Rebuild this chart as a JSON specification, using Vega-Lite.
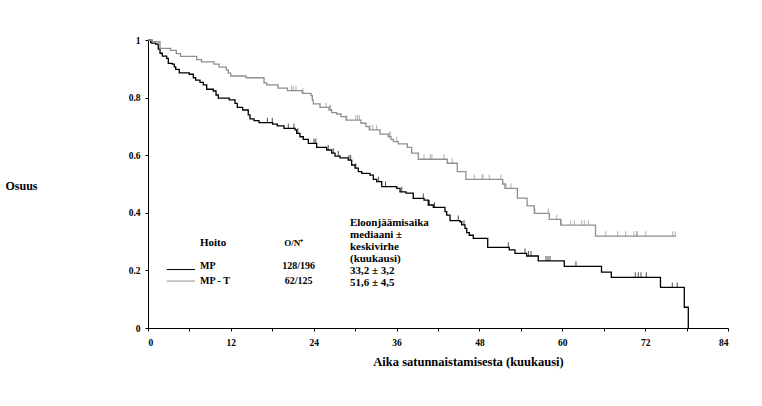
{
  "$schema": "https://vega.github.io/schema/vega-lite/v6.json",
  "autosize": {"type": "none"},
  "padding": {"left": 148, "top": 40, "right": 34, "bottom": 78},
  "width": 580,
  "height": 288,
  "background": "white",
  "config": {
    "view": {"stroke": null},
    "axis": {"grid": false, "domainColor": "#000", "tickColor": "#000", "labelColor": "#000", "titleColor": "#000",
      "labelFont": "Liberation Serif", "labelFontWeight": "bold", "labelFontSize": 9.5,
      "titleFont": "Liberation Serif", "titleFontWeight": "bold", "domainWidth": 1, "tickWidth": 1, "tickSize": 3}
  },
  "datasets": {"km": [
    {"g":"MP","t":0,"s":1,"c":0},
    {"g":"MP","t":0.39,"s":0.992,"c":0},
    {"g":"MP","t":0.54,"s":0.989,"c":0},
    {"g":"MP","t":1.11,"s":0.986,"c":0},
    {"g":"MP","t":1.49,"s":0.968,"c":0},
    {"g":"MP","t":1.74,"s":0.954,"c":0},
    {"g":"MP","t":2.07,"s":0.944,"c":0},
    {"g":"MP","t":2.71,"s":0.936,"c":0},
    {"g":"MP","t":2.94,"s":0.919,"c":0},
    {"g":"MP","t":3.52,"s":0.916,"c":0},
    {"g":"MP","t":3.81,"s":0.907,"c":0},
    {"g":"MP","t":4.01,"s":0.898,"c":0},
    {"g":"MP","t":4.53,"s":0.886,"c":0},
    {"g":"MP","t":5.98,"s":0.881,"c":0},
    {"g":"MP","t":6.56,"s":0.869,"c":0},
    {"g":"MP","t":6.91,"s":0.861,"c":0},
    {"g":"MP","t":7.53,"s":0.853,"c":0},
    {"g":"MP","t":8.01,"s":0.844,"c":0},
    {"g":"MP","t":8.5,"s":0.829,"c":0},
    {"g":"MP","t":9.46,"s":0.823,"c":0},
    {"g":"MP","t":9.85,"s":0.809,"c":0},
    {"g":"MP","t":10.18,"s":0.798,"c":0},
    {"g":"MP","t":11.77,"s":0.792,"c":0},
    {"g":"MP","t":12.6,"s":0.78,"c":0},
    {"g":"MP","t":12.93,"s":0.766,"c":0},
    {"g":"MP","t":13.71,"s":0.757,"c":0},
    {"g":"MP","t":14.52,"s":0.74,"c":0},
    {"g":"MP","t":14.77,"s":0.726,"c":0},
    {"g":"MP","t":15.35,"s":0.72,"c":0},
    {"g":"MP","t":16.08,"s":0.713,"c":0},
    {"g":"MP","t":17.28,"s":0.713,"c":1},
    {"g":"MP","t":18.0,"s":0.713,"c":1},
    {"g":"MP","t":18.06,"s":0.708,"c":0},
    {"g":"MP","t":18.73,"s":0.702,"c":0},
    {"g":"MP","t":19.7,"s":0.693,"c":0},
    {"g":"MP","t":20.32,"s":0.693,"c":1},
    {"g":"MP","t":21.14,"s":0.693,"c":1},
    {"g":"MP","t":21.29,"s":0.688,"c":0},
    {"g":"MP","t":21.53,"s":0.676,"c":0},
    {"g":"MP","t":21.7,"s":0.676,"c":1},
    {"g":"MP","t":22.01,"s":0.664,"c":0},
    {"g":"MP","t":22.49,"s":0.655,"c":0},
    {"g":"MP","t":23.22,"s":0.641,"c":0},
    {"g":"MP","t":24.04,"s":0.641,"c":1},
    {"g":"MP","t":24.3,"s":0.641,"c":1},
    {"g":"MP","t":24.43,"s":0.627,"c":0},
    {"g":"MP","t":25.88,"s":0.618,"c":0},
    {"g":"MP","t":26.1,"s":0.618,"c":1},
    {"g":"MP","t":26.6,"s":0.607,"c":0},
    {"g":"MP","t":26.84,"s":0.607,"c":1},
    {"g":"MP","t":27.08,"s":0.597,"c":0},
    {"g":"MP","t":27.56,"s":0.597,"c":1},
    {"g":"MP","t":27.81,"s":0.591,"c":0},
    {"g":"MP","t":29.0,"s":0.583,"c":0},
    {"g":"MP","t":29.1,"s":0.583,"c":1},
    {"g":"MP","t":29.35,"s":0.583,"c":1},
    {"g":"MP","t":29.5,"s":0.566,"c":0},
    {"g":"MP","t":29.98,"s":0.555,"c":0},
    {"g":"MP","t":30.1,"s":0.555,"c":1},
    {"g":"MP","t":30.46,"s":0.543,"c":0},
    {"g":"MP","t":30.95,"s":0.537,"c":0},
    {"g":"MP","t":32.15,"s":0.531,"c":0},
    {"g":"MP","t":32.63,"s":0.516,"c":0},
    {"g":"MP","t":33.12,"s":0.508,"c":0},
    {"g":"MP","t":33.4,"s":0.508,"c":1},
    {"g":"MP","t":33.85,"s":0.491,"c":0},
    {"g":"MP","t":34.4,"s":0.491,"c":1},
    {"g":"MP","t":36.02,"s":0.485,"c":0},
    {"g":"MP","t":36.5,"s":0.473,"c":0},
    {"g":"MP","t":36.75,"s":0.473,"c":1},
    {"g":"MP","t":37.36,"s":0.468,"c":0},
    {"g":"MP","t":38.42,"s":0.45,"c":0},
    {"g":"MP","t":39.87,"s":0.45,"c":1},
    {"g":"MP","t":39.97,"s":0.444,"c":0},
    {"g":"MP","t":40.59,"s":0.427,"c":0},
    {"g":"MP","t":40.75,"s":0.427,"c":1},
    {"g":"MP","t":41.32,"s":0.419,"c":0},
    {"g":"MP","t":41.5,"s":0.419,"c":1},
    {"g":"MP","t":43.01,"s":0.404,"c":0},
    {"g":"MP","t":43.26,"s":0.392,"c":0},
    {"g":"MP","t":43.74,"s":0.373,"c":0},
    {"g":"MP","t":44.94,"s":0.373,"c":1},
    {"g":"MP","t":45.18,"s":0.369,"c":0},
    {"g":"MP","t":45.43,"s":0.358,"c":0},
    {"g":"MP","t":45.76,"s":0.358,"c":1},
    {"g":"MP","t":45.91,"s":0.346,"c":0},
    {"g":"MP","t":46.16,"s":0.331,"c":0},
    {"g":"MP","t":46.53,"s":0.322,"c":0},
    {"g":"MP","t":47.11,"s":0.311,"c":0},
    {"g":"MP","t":49.2,"s":0.28,"c":0},
    {"g":"MP","t":52.18,"s":0.28,"c":1},
    {"g":"MP","t":52.32,"s":0.271,"c":0},
    {"g":"MP","t":53.15,"s":0.259,"c":0},
    {"g":"MP","t":54.6,"s":0.259,"c":1},
    {"g":"MP","t":54.84,"s":0.25,"c":0},
    {"g":"MP","t":55.1,"s":0.25,"c":1},
    {"g":"MP","t":55.47,"s":0.25,"c":1},
    {"g":"MP","t":56.52,"s":0.233,"c":0},
    {"g":"MP","t":57.64,"s":0.233,"c":1},
    {"g":"MP","t":57.93,"s":0.233,"c":1},
    {"g":"MP","t":58.22,"s":0.233,"c":1},
    {"g":"MP","t":60.29,"s":0.214,"c":0},
    {"g":"MP","t":61.98,"s":0.214,"c":1},
    {"g":"MP","t":65.68,"s":0.194,"c":0},
    {"g":"MP","t":67.1,"s":0.176,"c":0},
    {"g":"MP","t":70.57,"s":0.176,"c":1},
    {"g":"MP","t":71.01,"s":0.176,"c":1},
    {"g":"MP","t":71.4,"s":0.176,"c":1},
    {"g":"MP","t":72.17,"s":0.176,"c":1},
    {"g":"MP","t":74.22,"s":0.141,"c":0},
    {"g":"MP","t":75.93,"s":0.141,"c":1},
    {"g":"MP","t":76.65,"s":0.141,"c":1},
    {"g":"MP","t":77.67,"s":0.072,"c":0},
    {"g":"MP","t":78.25,"s":0.0,"c":0},
    {"g":"MP-T","t":0,"s":1,"c":0},
    {"g":"MP-T","t":0.65,"s":0.994,"c":0},
    {"g":"MP-T","t":1.74,"s":0.971,"c":0},
    {"g":"MP-T","t":3.26,"s":0.964,"c":0},
    {"g":"MP-T","t":4.1,"s":0.953,"c":0},
    {"g":"MP-T","t":4.71,"s":0.943,"c":0},
    {"g":"MP-T","t":7.05,"s":0.932,"c":0},
    {"g":"MP-T","t":7.75,"s":0.924,"c":0},
    {"g":"MP-T","t":9.56,"s":0.916,"c":0},
    {"g":"MP-T","t":10.28,"s":0.906,"c":0},
    {"g":"MP-T","t":11.34,"s":0.896,"c":0},
    {"g":"MP-T","t":11.63,"s":0.885,"c":0},
    {"g":"MP-T","t":11.98,"s":0.875,"c":0},
    {"g":"MP-T","t":14.19,"s":0.869,"c":0},
    {"g":"MP-T","t":16.8,"s":0.851,"c":0},
    {"g":"MP-T","t":17.19,"s":0.844,"c":0},
    {"g":"MP-T","t":18.83,"s":0.833,"c":0},
    {"g":"MP-T","t":20.2,"s":0.824,"c":0},
    {"g":"MP-T","t":20.81,"s":0.824,"c":1},
    {"g":"MP-T","t":21.04,"s":0.824,"c":1},
    {"g":"MP-T","t":21.43,"s":0.824,"c":1},
    {"g":"MP-T","t":22.35,"s":0.815,"c":0},
    {"g":"MP-T","t":22.45,"s":0.815,"c":1},
    {"g":"MP-T","t":23.61,"s":0.807,"c":0},
    {"g":"MP-T","t":23.8,"s":0.792,"c":0},
    {"g":"MP-T","t":23.94,"s":0.778,"c":0},
    {"g":"MP-T","t":24.91,"s":0.766,"c":0},
    {"g":"MP-T","t":25.78,"s":0.766,"c":1},
    {"g":"MP-T","t":26.21,"s":0.757,"c":0},
    {"g":"MP-T","t":26.3,"s":0.757,"c":1},
    {"g":"MP-T","t":26.45,"s":0.757,"c":1},
    {"g":"MP-T","t":26.6,"s":0.748,"c":0},
    {"g":"MP-T","t":27.33,"s":0.743,"c":0},
    {"g":"MP-T","t":27.95,"s":0.734,"c":0},
    {"g":"MP-T","t":28.68,"s":0.722,"c":0},
    {"g":"MP-T","t":28.8,"s":0.722,"c":1},
    {"g":"MP-T","t":30.1,"s":0.722,"c":1},
    {"g":"MP-T","t":30.35,"s":0.722,"c":1},
    {"g":"MP-T","t":30.6,"s":0.722,"c":1},
    {"g":"MP-T","t":30.85,"s":0.711,"c":0},
    {"g":"MP-T","t":31.57,"s":0.699,"c":0},
    {"g":"MP-T","t":32.05,"s":0.688,"c":0},
    {"g":"MP-T","t":32.15,"s":0.688,"c":1},
    {"g":"MP-T","t":32.54,"s":0.688,"c":1},
    {"g":"MP-T","t":33.1,"s":0.688,"c":1},
    {"g":"MP-T","t":33.6,"s":0.673,"c":0},
    {"g":"MP-T","t":34.8,"s":0.664,"c":0},
    {"g":"MP-T","t":34.95,"s":0.664,"c":1},
    {"g":"MP-T","t":35.1,"s":0.664,"c":1},
    {"g":"MP-T","t":35.19,"s":0.655,"c":0},
    {"g":"MP-T","t":35.53,"s":0.647,"c":0},
    {"g":"MP-T","t":36.02,"s":0.647,"c":1},
    {"g":"MP-T","t":36.25,"s":0.639,"c":0},
    {"g":"MP-T","t":37.55,"s":0.627,"c":0},
    {"g":"MP-T","t":38.19,"s":0.607,"c":0},
    {"g":"MP-T","t":39.15,"s":0.586,"c":0},
    {"g":"MP-T","t":39.97,"s":0.586,"c":1},
    {"g":"MP-T","t":40.91,"s":0.586,"c":1},
    {"g":"MP-T","t":41.13,"s":0.586,"c":1},
    {"g":"MP-T","t":42.87,"s":0.586,"c":1},
    {"g":"MP-T","t":43.35,"s":0.572,"c":0},
    {"g":"MP-T","t":44.07,"s":0.572,"c":1},
    {"g":"MP-T","t":44.79,"s":0.543,"c":0},
    {"g":"MP-T","t":46.05,"s":0.516,"c":0},
    {"g":"MP-T","t":47.26,"s":0.516,"c":1},
    {"g":"MP-T","t":48.37,"s":0.516,"c":1},
    {"g":"MP-T","t":48.52,"s":0.516,"c":1},
    {"g":"MP-T","t":49.43,"s":0.516,"c":1},
    {"g":"MP-T","t":51.12,"s":0.516,"c":1},
    {"g":"MP-T","t":51.37,"s":0.5,"c":0},
    {"g":"MP-T","t":51.7,"s":0.485,"c":0},
    {"g":"MP-T","t":51.85,"s":0.485,"c":1},
    {"g":"MP-T","t":52.57,"s":0.485,"c":1},
    {"g":"MP-T","t":53.5,"s":0.451,"c":0},
    {"g":"MP-T","t":54.9,"s":0.424,"c":0},
    {"g":"MP-T","t":55.94,"s":0.398,"c":0},
    {"g":"MP-T","t":56.05,"s":0.398,"c":1},
    {"g":"MP-T","t":57.97,"s":0.398,"c":1},
    {"g":"MP-T","t":58.12,"s":0.377,"c":0},
    {"g":"MP-T","t":59.19,"s":0.377,"c":1},
    {"g":"MP-T","t":59.77,"s":0.357,"c":0},
    {"g":"MP-T","t":59.85,"s":0.357,"c":1},
    {"g":"MP-T","t":61.22,"s":0.357,"c":1},
    {"g":"MP-T","t":61.74,"s":0.357,"c":1},
    {"g":"MP-T","t":62.81,"s":0.357,"c":1},
    {"g":"MP-T","t":63.19,"s":0.357,"c":1},
    {"g":"MP-T","t":63.77,"s":0.357,"c":1},
    {"g":"MP-T","t":64.81,"s":0.319,"c":0},
    {"g":"MP-T","t":66.29,"s":0.319,"c":1},
    {"g":"MP-T","t":68.02,"s":0.319,"c":1},
    {"g":"MP-T","t":69.18,"s":0.319,"c":1},
    {"g":"MP-T","t":70.38,"s":0.319,"c":1},
    {"g":"MP-T","t":70.77,"s":0.319,"c":1},
    {"g":"MP-T","t":70.86,"s":0.319,"c":1},
    {"g":"MP-T","t":72.08,"s":0.319,"c":1},
    {"g":"MP-T","t":75.99,"s":0.319,"c":1},
    {"g":"MP-T","t":76.37,"s":0.319,"c":1},
    {"g":"MP-T","t":76.42,"s":0.319,"c":0}
  ]},
  "layer": [
    {"data": {"name": "km"},
     "mark": {"type": "line", "interpolate": "step-after", "strokeWidth": 1.3},
     "encoding": {
      "x": {"field": "t", "type": "quantitative",
        "scale": {"domain": [0, 84], "nice": false, "zero": false},
        "axis": {"values": [0,6,12,18,24,30,36,42,48,54,60,66,72,78,84],
          "labelExpr": "datum.value % 12 == 0 ? datum.label : ''", "format": "d",
          "labelPadding": 6, "labelOverlap": false,
          "title": "Aika satunnaistamisesta (kuukausi)", "titleFontSize": 12.5,
          "titleX": 320, "titleY": 33, "titleBaseline": "middle", "titleAlign": "center"}},
      "y": {"field": "s", "type": "quantitative",
        "scale": {"domain": [0, 1], "nice": false},
        "axis": {"values": [0,0.1,0.2,0.3,0.4,0.5,0.6,0.7,0.8,0.9,1],
          "labelExpr": "round(datum.value*10) % 2 == 0 ? format(datum.value, '~g') : ''",
          "labelPadding": 5, "labelOverlap": false,
          "title": "Osuus", "titleFontSize": 12, "titleAngle": 0, "titleAlign": "left",
          "titleBaseline": "middle", "titleX": -143, "titleY": 145}},
      "color": {"field": "g", "type": "nominal", "scale": {"domain": ["MP", "MP-T"], "range": ["#000000", "#8f8f8f"]}, "legend": null}
     }},
    {"data": {"name": "km"},
     "transform": [{"filter": "datum.c == 1"}],
     "mark": {"type": "tick", "orient": "vertical", "size": 5, "thickness": 1, "yOffset": -2.5},
     "encoding": {
      "x": {"field": "t", "type": "quantitative", "title": "Aika satunnaistamisesta (kuukausi)"},
      "y": {"field": "s", "type": "quantitative", "title": "Osuus"},
      "color": {"field": "g", "type": "nominal", "legend": null}
     }},
    {"data": {"values": [{}]},
     "mark": {"type": "rule", "color": "#000000", "strokeWidth": 1},
     "encoding": {"x": {"datum": 2.71}, "x2": {"datum": 6.81}, "y": {"datum": 0.203}}},
    {"data": {"values": [{}]},
     "mark": {"type": "rule", "color": "#8f8f8f", "strokeWidth": 1},
     "encoding": {"x": {"datum": 2.71}, "x2": {"datum": 6.81}, "y": {"datum": 0.163}}},
    {"data": {"values": [{}]},
     "mark": {"type": "text", "text": "Hoito", "font": "Liberation Serif", "fontWeight": "bold", "fontSize": 11, "align": "left", "baseline": "middle", "color": "#000"},
     "encoding": {"x": {"datum": 7.53}, "y": {"datum": 0.295}}},
    {"data": {"values": [{}]},
     "mark": {"type": "text", "text": "O/N⁺", "font": "Liberation Serif", "fontWeight": "bold", "fontSize": 9, "align": "center", "baseline": "middle", "color": "#000"},
     "encoding": {"x": {"datum": 21.1}, "y": {"datum": 0.295}}},
    {"data": {"values": [{}]},
     "mark": {"type": "text", "text": ["MP", "MP - T"], "lineHeight": 15, "font": "Liberation Serif", "fontWeight": "bold", "fontSize": 10, "align": "left", "baseline": "top", "color": "#000"},
     "encoding": {"x": {"datum": 7.53}, "y": {"datum": 0.2326}}},
    {"data": {"values": [{}]},
     "mark": {"type": "text", "text": ["128/196", "62/125"], "lineHeight": 15, "font": "Liberation Serif", "fontWeight": "bold", "fontSize": 10, "align": "center", "baseline": "top", "color": "#000"},
     "encoding": {"x": {"datum": 21.8}, "y": {"datum": 0.2326}}},
    {"data": {"values": [{}]},
     "mark": {"type": "text", "text": ["Eloonjäämisaika", "mediaani ±", "keskivirhe", "(kuukausi)", "33,2 ± 3,2", "51,6 ± 4,5"], "lineHeight": 12, "font": "Liberation Serif", "fontWeight": "bold", "fontSize": 11, "align": "left", "baseline": "top", "color": "#000"},
     "encoding": {"x": {"datum": 29.25}, "y": {"datum": 0.387}}}
  ]
}
